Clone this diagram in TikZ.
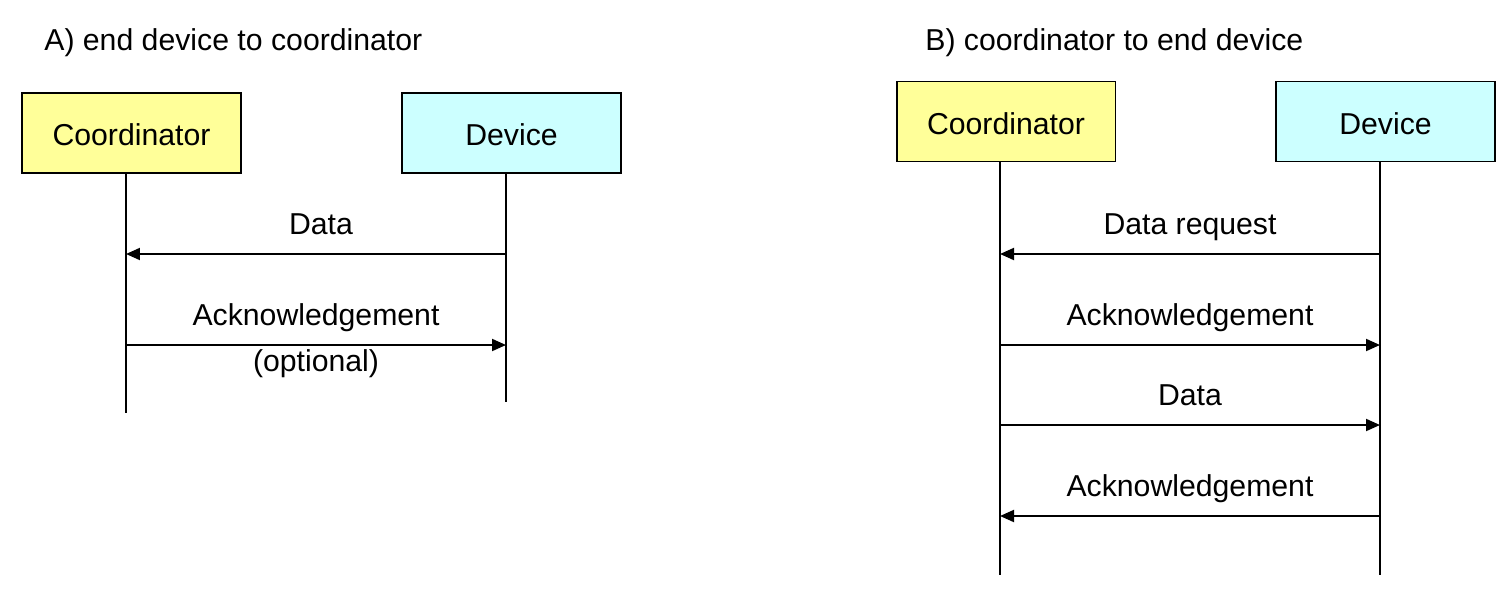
\documentclass[tikz,border=0pt]{standalone}
\usepackage{fontspec}
\setmainfont{Liberation Sans}
\usetikzlibrary{arrows.meta}
\definecolor{coordyellow}{HTML}{FFFF99}
\definecolor{devcyan}{HTML}{CCFFFF}
\tikzset{
  party/.style={draw, line width=1.1pt, minimum width=4.38cm, minimum height=1.6cm,
    font=\fontsize{17.2}{20}\selectfont, text height=14.6pt, text depth=0pt},
  lifeline/.style={line width=1.1pt},
  msg/.style={line width=1.1pt, -{Triangle[length=0.28cm,width=0.24cm]}},
  msglabel/.style={font=\fontsize{17.2}{20}\selectfont, text height=12.3pt, text depth=0pt, inner sep=0pt},
  heading/.style={font=\fontsize{17.2}{20}\selectfont, text height=12.3pt, text depth=0pt, inner sep=0pt, anchor=west}
}
\begin{document}
\begin{tikzpicture}[x=0.02cm, y=-0.02cm]
    \useasboundingbox (0,0) rectangle (1507,595);

    % A) end device to coordinator
    \node[heading] (tA) at (44,40) {A) end device to coordinator};
    \node[party, fill=coordyellow] (Acoord) at (131.5,133) {Coordinator};
    \node[party, fill=devcyan] (Adev) at (511.5,133) {Device};
    \coordinate (Acoord-end) at (126,413);
    \coordinate (Adev-end) at (506,402);
    \draw[lifeline] (Acoord-end |- Acoord.south) -- (Acoord-end);
    \draw[lifeline] (Adev-end |- Adev.south) -- (Adev-end);

    \coordinate (a1) at (0,254);
    \coordinate (a2) at (0,345);
    \draw[msg] (Adev-end |- a1) -- node[msglabel, yshift=0.6cm, xshift=0.1cm] {Data} (Acoord-end |- a1);
    \draw[msg] (Acoord-end |- a2) -- node[msglabel, yshift=0.6cm] {Acknowledgement}
        node[msglabel, yshift=-0.31cm] {(optional)} (Adev-end |- a2);

    % B) coordinator to end device
    \node[heading] (tB) at (925,40) {B) coordinator to end device};
    \node[party, fill=coordyellow] (Bcoord) at (1006,121.5) {Coordinator};
    \node[party, fill=devcyan] (Bdev) at (1385.5,121.5) {Device};
    \coordinate (Bcoord-end) at (1000,575);
    \coordinate (Bdev-end) at (1380,575);
    \draw[lifeline] (Bcoord-end |- Bcoord.south) -- (Bcoord-end);
    \draw[lifeline] (Bdev-end |- Bdev.south) -- (Bdev-end);

    \coordinate (b1) at (0,254);
    \coordinate (b2) at (0,345);
    \coordinate (b3) at (0,425);
    \coordinate (b4) at (0,516);
    \draw[msg] (Bdev-end |- b1) -- node[msglabel, yshift=0.6cm] {Data request} (Bcoord-end |- b1);
    \draw[msg] (Bcoord-end |- b2) -- node[msglabel, yshift=0.6cm] {Acknowledgement} (Bdev-end |- b2);
    \draw[msg] (Bcoord-end |- b3) -- node[msglabel, yshift=0.6cm] {Data} (Bdev-end |- b3);
    \draw[msg] (Bdev-end |- b4) -- node[msglabel, yshift=0.6cm] {Acknowledgement} (Bcoord-end |- b4);
\end{tikzpicture}
\end{document}
